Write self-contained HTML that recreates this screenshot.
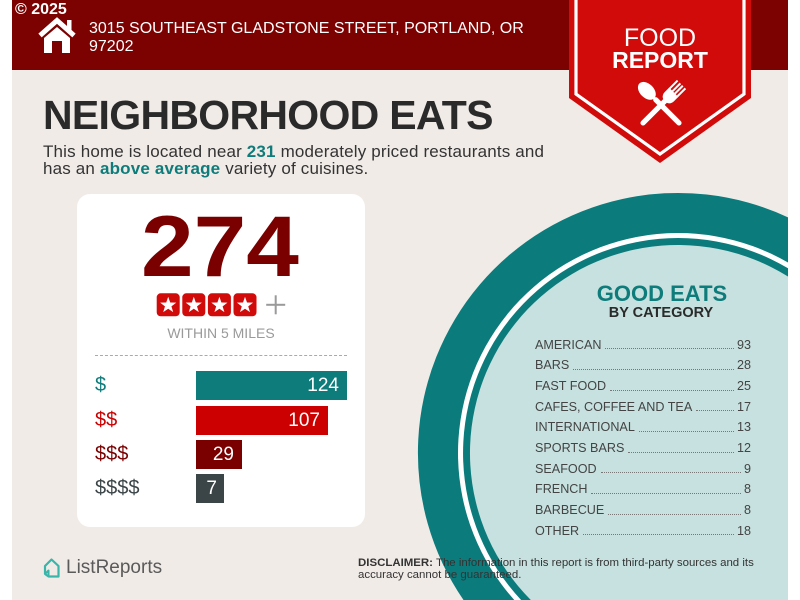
<!DOCTYPE html>
<html>
<head>
<meta charset="utf-8">
<style>
  html,body{margin:0;padding:0;width:800px;height:600px;overflow:hidden;}
  body{position:relative;background:#ffffff;font-family:"Liberation Sans",Arial,sans-serif;}
  .abs{position:absolute;white-space:nowrap;}
  .teal{color:#0e7c7b;font-weight:bold;}
  .row{display:flex;align-items:flex-end;height:20.65px;line-height:20.65px;font-size:12.6px;color:#444;}
  .row .lead{flex:1;height:0;border-bottom:1.3px dotted #777;margin:0 3px 6px 4px;}
  .bar{position:absolute;left:196px;height:29px;color:#fff;font-size:19px;line-height:29px;text-align:right;box-sizing:border-box;padding-right:8px;}
  .lbl{position:absolute;left:95px;height:29px;font-size:20px;line-height:29px;}
</style>
</head>
<body>
<svg width="800" height="600" style="position:absolute;left:0;top:0" xmlns="http://www.w3.org/2000/svg">
  <rect x="12" y="0" width="776" height="600" fill="#f0ebe7"/>
  <rect x="12" y="0" width="776" height="70" fill="#7c0101"/>
  <path d="M463.5,600 A260,260 0 0 1 788,217.4 L788,600 Z" fill="#0b7b7c"/>
  <path d="M514.3,600 A220,220 0 0 1 788,262.5 L788,600 Z" fill="#ffffff"/>
  <path d="M521.1,600 A215,215 0 0 1 788,268.3 L788,600 Z" fill="#0b7b7c"/>
  <path d="M530.8,600 A208,208 0 0 1 788,276.5 L788,600 Z" fill="#c6e1df"/>
  <!-- badge -->
  <polygon points="569,0 751,0 751,98 660,163 569,98" fill="#d10a0a"/>
  <polyline points="576,0 576,94 660,154 744,94 744,0" fill="none" stroke="#ffffff" stroke-width="3.2"/>
  <!-- spoon -->
  <g transform="translate(661,105) rotate(-45)" fill="#fff">
    <rect x="-2.6" y="-10" width="5.2" height="38" rx="2.6"/>
    <ellipse cx="0" cy="-20" rx="7" ry="10.5"/>
  </g>
  <!-- fork -->
  <g transform="translate(661,105) rotate(45)" fill="#fff">
    <rect x="-2.6" y="-8" width="5.2" height="36" rx="2.6"/>
    <path d="M-6.5,-18 L6.5,-18 L6.5,-12 Q6.5,-6 0,-5 Q-6.5,-6 -6.5,-12 Z"/>
    <rect x="-6.5" y="-29" width="2" height="12"/>
    <rect x="-2.6" y="-29" width="2" height="12"/>
    <rect x="0.8" y="-29" width="2" height="12"/>
    <rect x="4.5" y="-29" width="2" height="12"/>
  </g>
  <!-- house icon -->
  <polyline points="40,35.5 57,20.5 74,35.5" fill="none" stroke="#fff" stroke-width="5" stroke-linejoin="miter"/>
  <rect x="67" y="20" width="4.5" height="10" fill="#fff"/>
  <path d="M44,38 L57,27 L70,38 L70,53 L62,53 L62,41 L52,41 L52,53 L44,53 Z" fill="#fff"/>
  <!-- ListReports icon -->
  <path d="M45,574 L45,566 L51.5,559.5 L58.5,566 L58.5,576.5 L48.5,576.5" fill="none" stroke="#3ab5aa" stroke-width="2.2" stroke-linejoin="round"/>
  <path d="M45,574 L48.5,570.5 L48.5,576.5 Z" fill="none" stroke="#3ab5aa" stroke-width="2" stroke-linejoin="round"/>
</svg>

<!-- header text -->
<div class="abs" style="left:15px;top:1.5px;font-size:16px;line-height:16px;font-weight:bold;color:#fff;">© 2025</div>
<div class="abs" style="left:89px;top:19.5px;font-size:16px;line-height:18px;color:#fff;">3015 SOUTHEAST GLADSTONE STREET, PORTLAND, OR<br>97202</div>

<!-- badge text -->
<div class="abs" style="left:569px;width:182px;text-align:center;top:25.8px;font-size:25px;line-height:25px;color:#fff;">FOOD</div>
<div class="abs" style="left:569px;width:182px;text-align:center;top:48.5px;font-size:23px;line-height:23px;font-weight:bold;color:#fff;">REPORT</div>

<!-- title -->
<div class="abs" style="left:43px;top:95.3px;font-size:41px;line-height:41px;font-weight:bold;color:#2a2a2a;letter-spacing:-0.7px;">NEIGHBORHOOD EATS</div>
<div class="abs" style="left:43px;top:142.6px;font-size:17px;line-height:17px;color:#333;letter-spacing:0.17px;">This home is located near <span class="teal">231</span> moderately priced restaurants and<br>has an <span class="teal">above average</span> variety of cuisines.</div>

<!-- card -->
<div style="position:absolute;left:77px;top:194px;width:288px;height:333px;background:#fff;border-radius:13px;"></div>
<div class="abs" style="left:141px;top:204px;font-size:86px;line-height:86px;font-weight:bold;color:#7a0000;transform:scaleX(1.1);transform-origin:0 0;">274</div>
<svg width="140" height="26" style="position:absolute;left:156px;top:292px" xmlns="http://www.w3.org/2000/svg">
  <g transform="translate(0.7,1.3)">
    <rect x="0" y="0" width="23" height="23" rx="4" fill="#d10a0a"/>
    <path transform="translate(11.5,12)" d="M0,-8.5 L2,-2.75 L8.08,-2.63 L3.23,1.05 L5,6.88 L0,3.4 L-5,6.88 L-3.23,1.05 L-8.08,-2.63 L-2,-2.75 Z" fill="#fff"/>
    <rect x="25.6" y="0" width="23" height="23" rx="4" fill="#d10a0a"/>
    <path transform="translate(37.1,12)" d="M0,-8.5 L2,-2.75 L8.08,-2.63 L3.23,1.05 L5,6.88 L0,3.4 L-5,6.88 L-3.23,1.05 L-8.08,-2.63 L-2,-2.75 Z" fill="#fff"/>
    <rect x="51.2" y="0" width="23" height="23" rx="4" fill="#d10a0a"/>
    <path transform="translate(62.7,12)" d="M0,-8.5 L2,-2.75 L8.08,-2.63 L3.23,1.05 L5,6.88 L0,3.4 L-5,6.88 L-3.23,1.05 L-8.08,-2.63 L-2,-2.75 Z" fill="#fff"/>
    <rect x="76.8" y="0" width="23" height="23" rx="4" fill="#d10a0a"/>
    <path transform="translate(88.3,12)" d="M0,-8.5 L2,-2.75 L8.08,-2.63 L3.23,1.05 L5,6.88 L0,3.4 L-5,6.88 L-3.23,1.05 L-8.08,-2.63 L-2,-2.75 Z" fill="#fff"/>
    <rect x="109.5" y="10.5" width="19" height="2" fill="#9a9a9a"/>
    <rect x="118" y="2" width="2" height="19" fill="#9a9a9a"/>
  </g>
</svg>
<div class="abs" style="left:77px;width:288px;text-align:center;top:326px;font-size:14px;line-height:14px;color:#9a9a9a;">WITHIN 5 MILES</div>
<div style="position:absolute;left:95px;top:355px;width:252px;height:0;border-top:1px dashed #aaaaaa;"></div>

<div class="lbl" style="top:371px;color:#0e7c7b;">$</div>
<div class="lbl" style="top:405.5px;color:#cc0000;">$$</div>
<div class="lbl" style="top:440px;color:#7a0000;">$$$</div>
<div class="lbl" style="top:474px;color:#3b4547;">$$$$</div>

<div class="bar" style="top:371px;width:151px;background:#0e7c7b;">124</div>
<div class="bar" style="top:405.5px;width:132px;background:#cc0000;">107</div>
<div class="bar" style="top:440px;width:46px;background:#7a0000;">29</div>
<div class="bar" style="top:474px;width:28px;background:#3b4547;padding-right:7px;">7</div>

<!-- category list -->
<div class="abs" style="left:562px;width:200px;text-align:center;top:283.4px;font-size:22px;line-height:22px;font-weight:bold;color:#0e7c7b;">GOOD EATS</div>
<div class="abs" style="left:561px;width:200px;text-align:center;top:305.7px;font-size:14.5px;line-height:14.5px;font-weight:bold;color:#2a2a2a;">BY CATEGORY</div>
<div style="position:absolute;left:535px;top:334.8px;width:216px;">
  <div class="row"><span>AMERICAN</span><span class="lead"></span><span>93</span></div>
  <div class="row"><span>BARS</span><span class="lead"></span><span>28</span></div>
  <div class="row"><span>FAST FOOD</span><span class="lead"></span><span>25</span></div>
  <div class="row"><span>CAFES, COFFEE AND TEA</span><span class="lead"></span><span>17</span></div>
  <div class="row"><span>INTERNATIONAL</span><span class="lead"></span><span>13</span></div>
  <div class="row"><span>SPORTS BARS</span><span class="lead"></span><span>12</span></div>
  <div class="row"><span>SEAFOOD</span><span class="lead"></span><span>9</span></div>
  <div class="row"><span>FRENCH</span><span class="lead"></span><span>8</span></div>
  <div class="row"><span>BARBECUE</span><span class="lead"></span><span>8</span></div>
  <div class="row"><span>OTHER</span><span class="lead"></span><span>18</span></div>
</div>

<!-- footer -->
<div class="abs" style="left:66px;top:558.4px;font-size:19px;line-height:19px;color:#5a5a5a;">ListReports</div>
<div class="abs" style="left:358px;top:557px;font-size:11.45px;line-height:12px;color:#333;"><b>DISCLAIMER:</b> The information in this report is from third-party sources and its<br>accuracy cannot be guaranteed.</div>
</body>
</html>
